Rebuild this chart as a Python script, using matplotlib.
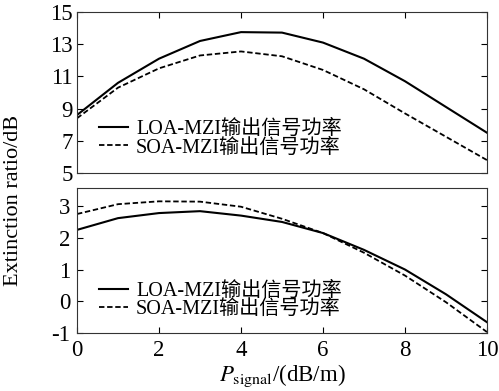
import matplotlib
matplotlib.use('Agg')
import matplotlib.pyplot as plt
import numpy as np

plt.rcParams['font.family'] = ['Liberation Serif', 'Noto Sans CJK SC']
plt.rcParams['mathtext.fontset'] = 'stix'
plt.rcParams['axes.unicode_minus'] = False

x = [0, 1, 2, 3, 4, 5, 6, 7, 8, 9, 10]
# upper panel
loa_top = [8.6, 10.6, 12.1, 13.2, 13.75, 13.72, 13.1, 12.1, 10.7, 9.1, 7.5]
soa_top = [8.4, 10.3, 11.5, 12.3, 12.55, 12.25, 11.4, 10.2, 8.7, 7.25, 5.8]
# lower panel
loa_bot = [2.25, 2.62, 2.78, 2.84, 2.7, 2.5, 2.15, 1.62, 1.0, 0.22, -0.66]
soa_bot = [2.75, 3.06, 3.15, 3.14, 2.98, 2.6, 2.15, 1.53, 0.81, -0.03, -0.97]

labels = ['LOA-MZI输出信号功率', 'SOA-MZI输出信号功率']

fig = plt.figure(figsize=(4.99, 3.91), dpi=100)
W, H = 499, 391
ax1 = fig.add_axes([77/W, 1-173/H, 410/W, 161/H])
ax2 = fig.add_axes([77/W, 1-333/H, 410/W, 145/H])

for ax, a, b in [(ax1, loa_top, soa_top), (ax2, loa_bot, soa_bot)]:
    ax.plot(x, a, color='black', lw=1.5, ls='-', label=labels[0])
    ax.plot(x, b, color='black', lw=1.3, ls=(0, (3, 1.5)), label=labels[1])
    ax.set_xlim(0, 10)
    ax.tick_params(direction='in', length=4, labelsize=16.5, width=0.8, pad=3)
    for s in ax.spines.values():
        s.set_linewidth(0.8)
        s.set_color('#333333')

leg_kw = dict(loc='upper left', frameon=False, fontsize=14.5, handlelength=1.4,
              labelspacing=-0.03, borderaxespad=0, handletextpad=0.42)

ax1.set_ylim(5, 15)
ax1.set_yticks([5, 7, 9, 11, 13, 15])
ax1.set_xticks([0, 2, 4, 6, 8, 10])
ax1.tick_params(bottom=False, labelbottom=False, top=True, right=True)
ax1.legend(bbox_to_anchor=(0.035, 0.38), **leg_kw)

ax2.set_ylim(-1, 3.57)
ax2.set_yticks([-1, 0, 1, 2, 3])
ax2.set_xticks([0, 2, 4, 6, 8, 10])
ax2.tick_params(right=True, pad=5)
ax2.legend(bbox_to_anchor=(0.035, 0.41), **leg_kw)

ax2.set_xlabel(r'$P_{\mathrm{signal}}$/(dB/m)', fontsize=16.5, labelpad=1)
fig.text(14/W, 1-200/H, 'Extinction ratio/dB', rotation=90, fontsize=16,
         ha='center', va='center')

fig.savefig('out.png', dpi=100)
